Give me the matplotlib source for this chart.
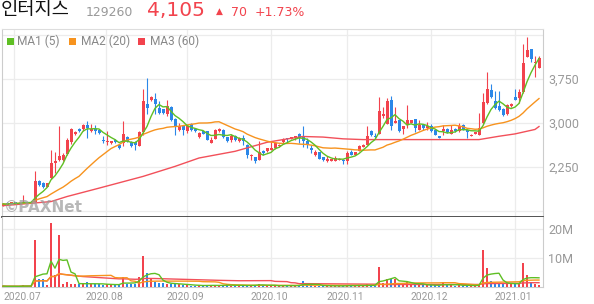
import numpy as np
import pandas as pd
import matplotlib
matplotlib.use('Agg')
import matplotlib.pyplot as plt
from matplotlib.patches import Rectangle

# daily candles, 2020-06-29 .. 2021-01-12
opens = [1586, 1640, 1620, 1650, 1625, 1640, 1650, 1635, 1660, 2003,
         1985, 1917, 2060, 2318, 2374, 2374, 2477, 2671, 2820, 2900,
         2890, 2974, 2860, 2906, 2877, 2717, 2671, 2660, 2717, 2631,
         2660, 2763, 2671, 2677, 2614, 2843, 3317, 3391, 3414, 3260,
         3231, 3146, 3277, 3060, 2889, 2946, 2860, 2986, 2900, 2763,
         2860, 2860, 2660, 2734, 2860, 2889, 2757, 2717, 2774, 2689,
         2746, 2631, 2431, 2414, 2363, 2529, 2517, 2534, 2574, 2603,
         2671, 2746, 2729, 2746, 2820, 2757, 2700, 2574, 2460, 2506,
         2414, 2346, 2357, 2357, 2374, 2374, 2346, 2500, 2460, 2517,
         2591, 2631, 2871, 2774, 2820, 3111, 2991, 3386, 3003, 3049,
         2906, 2986, 3003, 3060, 2889, 2963, 2917, 2957, 2877, 2774,
         2860, 2900, 2820, 2906, 2860, 2963, 2889, 2774, 2814, 2803,
         2997, 3334, 3557, 3374, 3289, 3243, 3146, 3290, 3443, 3431,
         3529, 4129, 4260, 4020, 3946]
highs = [1630, 1645, 1660, 1660, 1650, 1774, 1660, 1665, 2174, 2030,
         1995, 1980, 2534, 2510, 2946, 2480, 2740, 2910, 2870, 2920,
         2980, 3031, 2990, 2970, 2880, 2774, 2860, 2700, 2730, 2640,
         3031, 2780, 2690, 2690, 2860, 3586, 3774, 3460, 3517, 3374,
         3240, 3400, 3290, 3080, 3003, 2960, 2970, 3000, 2910, 2840,
         2870, 2870, 2763, 2890, 2910, 2900, 2765, 2820, 2790, 2760,
         2800, 2640, 2470, 2420, 2689, 2540, 2580, 2689, 2670, 2640,
         2740, 2750, 2765, 2780, 2825, 2946, 2746, 2631, 2534, 2510,
         2420, 2443, 2390, 2430, 2400, 2380, 2517, 2546, 2510, 2631,
         2640, 2957, 2875, 2831, 3443, 3271, 3431, 3460, 3271, 3055,
         2957, 3300, 3055, 3071, 3043, 2974, 3014, 2986, 2880, 2780,
         2974, 2910, 2974, 2910, 2997, 2991, 2895, 2810, 2855, 3174,
         3517, 3871, 3660, 3546, 3546, 3250, 3317, 3346, 3574, 3574,
         4346, 4460, 4270, 4146, 4146]
lows = [1580, 1600, 1615, 1625, 1620, 1635, 1630, 1630, 1650, 1930,
        1900, 1910, 2040, 2150, 2360, 2360, 2460, 2650, 2800, 2850,
        2870, 2746, 2850, 2810, 2820, 2660, 2631, 2640, 2660, 2560,
        2603, 2680, 2590, 2546, 2600, 2803, 3146, 3380, 3146, 3146,
        3160, 3117, 3031, 2803, 2860, 2803, 2831, 2860, 2850, 2750,
        2810, 2710, 2655, 2720, 2850, 2750, 2680, 2671, 2700, 2680,
        2631, 2403, 2374, 2318, 2363, 2460, 2510, 2534, 2560, 2595,
        2660, 2671, 2720, 2717, 2660, 2591, 2574, 2489, 2443, 2380,
        2355, 2340, 2350, 2346, 2370, 2300, 2306, 2455, 2455, 2517,
        2590, 2630, 2774, 2746, 2820, 3089, 2991, 2889, 3003, 2855,
        2820, 2917, 3000, 2843, 2885, 2889, 2889, 2843, 2800, 2740,
        2803, 2835, 2820, 2850, 2855, 2880, 2746, 2770, 2810, 2803,
        2990, 3320, 3431, 3231, 3203, 3120, 3129, 3280, 3385, 3346,
        3517, 4120, 4043, 3791, 3946]
closes = [1620, 1610, 1650, 1630, 1640, 1660, 1635, 1655, 2003, 1950,
          1917, 1970, 2318, 2346, 2431, 2460, 2717, 2906, 2843, 2860,
          2974, 2917, 2906, 2860, 2831, 2689, 2700, 2689, 2677, 2574,
          2820, 2689, 2603, 2620, 2849, 3374, 3260, 3449, 3317, 3174,
          3174, 3289, 3049, 2946, 2946, 2889, 2957, 2889, 2860, 2831,
          2820, 2717, 2706, 2877, 2900, 2763, 2689, 2774, 2717, 2746,
          2689, 2460, 2460, 2346, 2506, 2489, 2574, 2574, 2660, 2631,
          2729, 2720, 2757, 2774, 2746, 2700, 2631, 2534, 2500, 2391,
          2363, 2386, 2386, 2403, 2391, 2346, 2489, 2460, 2500, 2603,
          2631, 2786, 2803, 2763, 3203, 3157, 3374, 2946, 3031, 2860,
          2946, 3043, 3049, 2917, 2963, 2917, 2946, 2860, 2803, 2746,
          2900, 2843, 2889, 2860, 2946, 2889, 2843, 2803, 2849, 2917,
          3357, 3586, 3443, 3260, 3220, 3129, 3300, 3317, 3391, 3529,
          4031, 4249, 4089, 4035, 4105]
# volume in millions of shares
volume = [0.3, 0.2, 0.3, 0.2, 0.2, 0.6, 0.3, 0.3, 16.2, 2.6,
          2.9, 0.8, 22.2, 4.0, 17.9, 1.1, 1.6, 1.2, 1.0, 1.0,
          0.9, 1.6, 1.1, 1.0, 0.9, 0.8, 1.0, 0.8, 0.7, 0.8,
          3.4, 1.0, 0.9, 1.0, 3.6, 10.6, 4.8, 2.9, 1.6, 1.3,
          1.3, 1.1, 1.2, 1.1, 0.9, 0.8, 0.6, 0.5, 0.5, 0.6,
          0.4, 0.7, 0.5, 0.6, 0.5, 0.6, 1.0, 0.5, 0.4, 0.5,
          0.5, 0.8, 0.5, 0.6, 1.1, 0.5, 0.4, 0.5, 0.5, 0.4,
          0.5, 0.4, 0.4, 0.7, 0.5, 2.2, 0.7, 0.6, 0.5, 0.5,
          0.4, 0.4, 0.3, 0.4, 0.3, 0.5, 0.7, 0.5, 0.4, 0.5,
          0.4, 0.9, 0.6, 0.5, 6.9, 1.5, 2.8, 2.6, 2.6, 1.2,
          0.8, 2.2, 1.0, 0.9, 0.7, 0.6, 0.7, 0.6, 0.6, 0.5,
          1.6, 0.6, 0.7, 0.5, 0.6, 0.5, 0.7, 0.4, 0.4, 0.8,
          12.7, 6.4, 2.0, 1.4, 1.3, 1.0, 1.5, 1.0, 1.1, 1.0,
          8.3, 4.0, 1.7, 1.1, 0.8]

# MA3 (60) as drawn on the chart (needs history before the window)
ma3_idx = [0, 12, 16, 24, 35, 43, 49, 58, 66, 70, 75, 80, 85, 90, 100,
           119, 124, 128, 133, 134]
ma3_val = [1590, 1660, 1746, 1889, 2089, 2260, 2403, 2517, 2671, 2717,
           2770, 2760, 2730, 2717, 2717, 2717, 2774, 2814, 2890, 2940]

month_pos = [2.75, 25.75, 46, 67, 86, 107, 128]
month_labels = ['2020.07', '2020.08', '2020.09', '2020.10', '2020.11',
                '2020.12', '2021.01']

RED = '#f2434d'
BLUE = '#2b87e8'
GREEN = '#5fbf24'
ORANGE = '#f7931e'
MA3C = '#f2505a'
GRID = '#ececec'
LBL = '#999999'

W, H = 594, 304
def fx(px): return px / W
def fy(py): return 1 - py / H

o = np.array(opens, float)
h = np.array(highs, float)
l = np.array(lows, float)
c = np.array(closes, float)
v = np.array(volume) * 1e6
x = np.arange(len(c))
cols = np.where(c >= o, RED, BLUE)

fig = plt.figure(figsize=(W / 100, H / 100), dpi=100)
fig.patch.set_facecolor('white')
ax = fig.add_axes([fx(2), fy(217), fx(541), 188 / H])
ax2 = fig.add_axes([fx(2), fy(287), fx(541), 70 / H], sharex=ax)

# candles
ax.vlines(x, l, h, colors=cols, lw=0.8, zorder=3)
ax.bar(x, np.maximum(np.abs(c - o), 10), 0.75, bottom=np.minimum(o, c),
       color=cols, lw=0, zorder=4)

ma1 = pd.Series(c).rolling(5, min_periods=1).mean()
ma2 = pd.Series(c).rolling(20, min_periods=1).mean()
ax.plot(ma3_idx, ma3_val, color=MA3C, lw=1.0, zorder=5)
ax.plot(x, ma2, color=ORANGE, lw=1.0, zorder=5)
ax.plot(x, ma1, color=GREEN, lw=1.0, zorder=5)

ax.set_xlim(-0.25, 135)
ax.set_ylim(1397, 4603)
ax.set_yticks([1500, 2250, 3000, 3750, 4500])
ax.set_yticklabels(['', '2,250', '3,000', '3,750', ''])
ax.yaxis.tick_right()
ax.tick_params(axis='y', length=0, pad=3.6, labelsize=9, labelcolor=LBL)
ax.tick_params(axis='x', length=0, labelbottom=False)
ax.set_xticks(month_pos)
ax.grid(True, color=GRID, lw=0.9)
ax.set_axisbelow(True)
for lab in ax.get_yticklabels():
    lab.set_fontfamily('Roboto')

ax.text(0.004, 0.025, '©PAXNet', transform=ax.transAxes, fontsize=11,
        fontweight='bold', color='#9a9a9a', alpha=0.7, va='baseline',
        zorder=6)

# volume
ax2.bar(x, v, 0.7, color=cols, lw=0, zorder=3)
vs = pd.Series(v)
ax2.plot(x, vs.rolling(60, min_periods=1).mean(), color=MA3C, lw=1.0, zorder=4)
ax2.plot(x, vs.rolling(20, min_periods=1).mean(), color=ORANGE, lw=1.0, zorder=4)
ax2.plot(x, vs.rolling(5, min_periods=1).mean(), color=GREEN, lw=1.0, zorder=4)
ax2.set_ylim(0, 24.2e6)
ax2.set_yticks([10e6, 20e6])
ax2.set_yticklabels(['10M', '20M'])
ax2.yaxis.tick_right()
ax2.tick_params(axis='y', length=0, pad=3.6, labelsize=9, labelcolor=LBL)
ax2.set_xticks(month_pos)
ax2.tick_params(axis='x', length=0, labelbottom=False)
ax2.grid(True, color=GRID, lw=0.9)
ax2.set_axisbelow(True)
for lab in ax2.get_yticklabels():
    lab.set_fontfamily('Roboto')

xt = ax2.get_xaxis_transform()
for i, (p, s) in enumerate(zip(month_pos, month_labels)):
    if i == 0:
        ax2.text(0, -0.14, s, transform=xt, ha='left', va='center',
                 fontsize=7.4, color=LBL, family='Roboto')
    else:
        ax2.text(p - 0.35, -0.14, s, transform=xt, ha='center', va='center',
                 fontsize=7.4, color=LBL, family='Roboto')

for a in (ax, ax2):
    for side in ('left', 'right', 'top', 'bottom'):
        a.spines[side].set_color('#cccccc')
        a.spines[side].set_linewidth(0.8)
ax.spines['top'].set_color('#dddddd')
ax.spines['bottom'].set_color('#444444')
ax.spines['bottom'].set_linewidth(1.3)
ax2.spines['top'].set_visible(False)

# header
fig.text(fx(1), fy(10), '인터지스', fontsize=13.5, color='#111111',
         family=['Noto Sans CJK KR', 'DejaVu Sans'], va='center', ha='left')
fig.text(fx(86), fy(12), '129260', fontsize=9, color='#999999',
         family='DejaVu Sans', va='center', ha='left')
fig.text(fx(147), fy(10), '4,105', fontsize=14.5, color=RED,
         family='DejaVu Sans', va='center', ha='left')
fig.text(fx(216), fy(11.5), '▲', fontsize=6.5, color=RED,
         family='DejaVu Sans', va='center', ha='left')
fig.text(fx(231), fy(12), '70', fontsize=9, color=RED,
         family='DejaVu Sans', va='center', ha='left')
fig.text(fx(255), fy(12), '+1.73%', fontsize=9, color=RED,
         family='DejaVu Sans', va='center', ha='left')

# legend
leg = [(6.5, GREEN, 'MA1 (5)', 17), (69, ORANGE, 'MA2 (20)', 81),
       (138, RED, 'MA3 (60)', 150)]
for sx, col, txt, tx in leg:
    fig.patches.append(Rectangle((fx(sx), fy(44.5)), fx(7), 7 / H,
                                 transform=fig.transFigure, color=col,
                                 lw=0, zorder=10))
    fig.text(fx(tx), fy(41), txt, fontsize=8.6, color='#888888',
             family='Roboto', va='center', ha='left', zorder=10)

fig.savefig('out.png', dpi=100)
